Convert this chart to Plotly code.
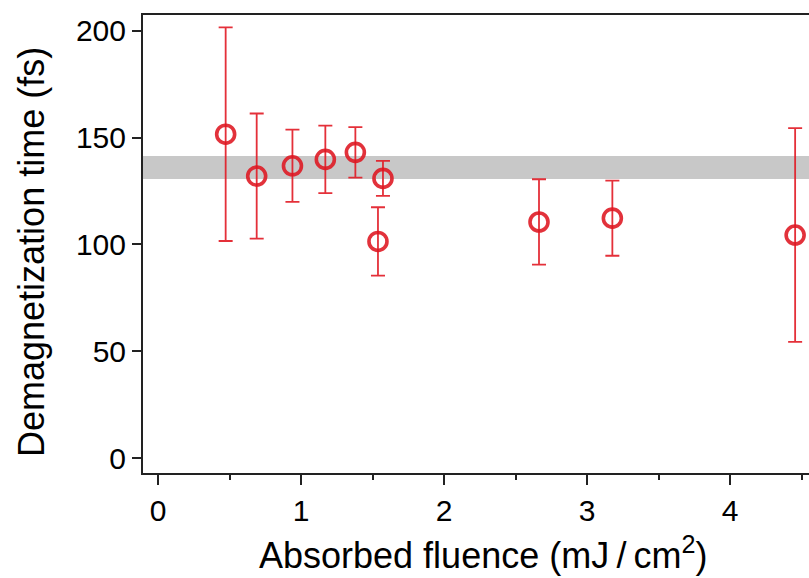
import plotly.graph_objects as go

# Data
fluence = [0.473, 0.69, 0.94, 1.17, 1.38, 1.573, 1.538, 2.664, 3.177, 4.455]
demag_time = [151.6, 132.0, 136.8, 139.8, 143.1, 130.9, 101.4, 110.5, 112.3, 104.4]
demag_err = [50.0, 29.3, 16.9, 15.8, 11.8, 8.2, 16.0, 20.0, 17.6, 50.0]
band_low = 130.6
band_high = 141.4
x_ticks = [0, 1, 2, 3, 4]
y_ticks = [0, 50, 100, 150, 200]

RED = "rgba(222,22,32,0.88)"
FONT = "Liberation Sans, Arial, Helvetica, sans-serif"

fig = go.Figure()
fig.add_trace(go.Scatter(
    x=fluence, y=demag_time, mode="markers",
    marker=dict(symbol="circle-open", size=18, color=RED,
                line=dict(width=3.6, color=RED)),
    error_y=dict(type="data", array=demag_err, visible=True,
                 color="rgba(225,25,35,0.9)", thickness=1.8, width=7),
    showlegend=False,
))

fig.add_shape(type="rect", xref="paper", yref="y", x0=0, x1=1,
              y0=band_low, y1=band_high, fillcolor="rgb(200,200,200)",
              line=dict(width=0), layer="below")

fig.update_layout(
    width=809, height=578,
    margin=dict(l=143, r=0, t=15, b=105),
    paper_bgcolor="white", plot_bgcolor="white",
    font=dict(family=FONT, color="black"),
    xaxis=dict(range=[-0.105, 4.552], tickvals=x_ticks, ticktext=[str(v) for v in x_ticks],
               ticks="outside", ticklen=10, tickwidth=2, tickcolor="#222",
               showline=True, linewidth=2, linecolor="#222", mirror=True,
               showgrid=False, zeroline=False,
               tickfont=dict(size=30, family=FONT),
               minor=dict(dtick=0.5, tick0=0, ticks="outside", ticklen=5,
                          tickwidth=2, tickcolor="#222", showgrid=False)),
    yaxis=dict(range=[-7.0, 207.4], tickvals=y_ticks, ticktext=[str(v) for v in y_ticks],
               ticks="outside", ticklen=9, tickwidth=2, tickcolor="#222",
               showline=True, linewidth=2, linecolor="#222", mirror=False,
               showgrid=False, zeroline=False,
               tickfont=dict(size=30, family=FONT)),
    annotations=[
        dict(text="Absorbed fluence (mJ\u2009/\u2009cm<sup>2</sup>)", xref="paper", yref="paper",
             x=(483 - 143) / (809 - 143), y=(473 - 553) / (473 - 15),
             xanchor="center", yanchor="middle", showarrow=False,
             font=dict(size=36, family=FONT, color="black")),
        dict(text="Demagnetization time (fs)", xref="paper", yref="paper",
             x=(31 - 143) / (809 - 143), y=(473 - 252) / (473 - 15),
             xanchor="center", yanchor="middle", showarrow=False, textangle=-90,
             font=dict(size=36, family=FONT, color="black")),
    ],
)

fig.write_html("out.html")
